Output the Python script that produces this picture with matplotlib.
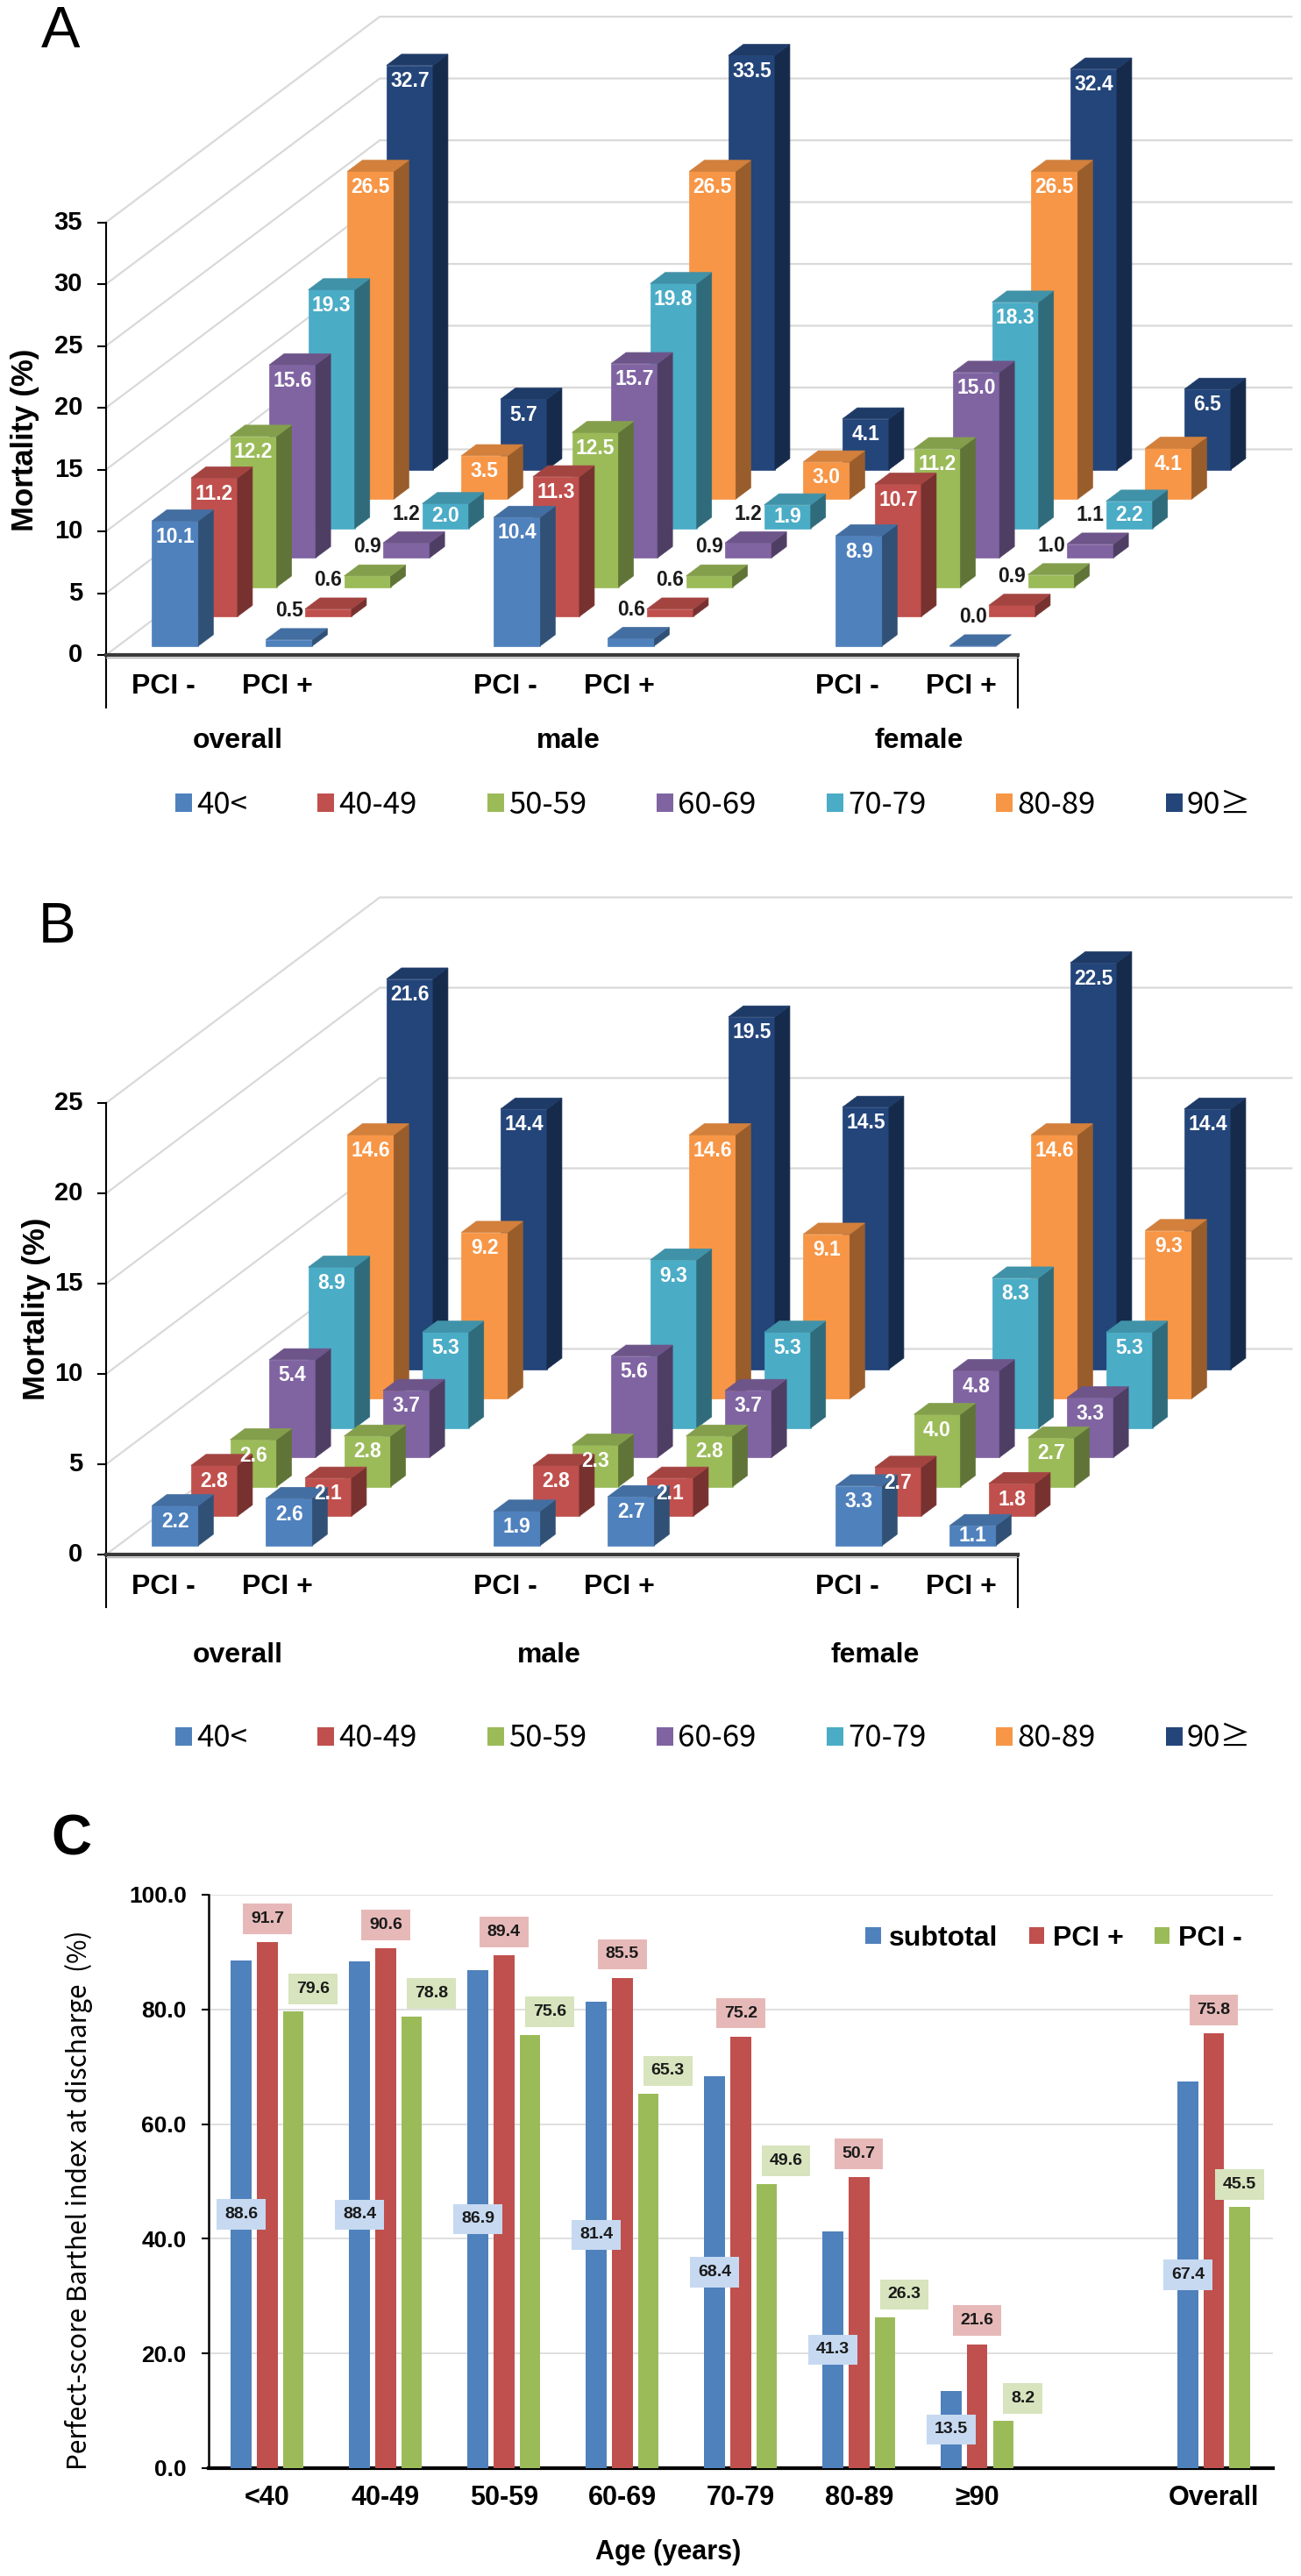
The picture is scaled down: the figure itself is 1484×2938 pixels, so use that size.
import numpy as np
import matplotlib
matplotlib.use('Agg')
import matplotlib.pyplot as plt
from matplotlib.patches import Polygon, Patch
from matplotlib.colors import to_rgb

plt.rcParams['font.family'] = ['Liberation Sans', 'DejaVu Sans']
JP = ['Noto Sans CJK JP', 'DejaVu Sans']

W, H = 1484, 2938

age_groups = ['40<', '40-49', '50-59', '60-69', '70-79', '80-89', '90≥']
age_colors = ['#4f81bd', '#c0504d', '#9bbb59', '#8064a2', '#4bacc6', '#f79646', '#23457a']
column_labels = ['PCI -', 'PCI +', 'PCI -', 'PCI +', 'PCI -', 'PCI +']
group_labels = ['overall', 'male', 'female']

# A: mortality (%), one list per column, by age group
a_overall_minus = [10.1, 11.2, 12.2, 15.6, 19.3, 26.5, 32.7]
a_overall_plus = [0.5, 0.6, 0.9, 1.2, 2.0, 3.5, 5.7]
a_male_minus = [10.4, 11.3, 12.5, 15.7, 19.8, 26.5, 33.5]
a_male_plus = [0.6, 0.6, 0.9, 1.2, 1.9, 3.0, 4.1]
a_female_minus = [8.9, 10.7, 11.2, 15.0, 18.3, 26.5, 32.4]
a_female_plus = [0.0, 0.9, 1.0, 1.1, 2.2, 4.1, 6.5]

# B: mortality (%)
b_overall_minus = [2.2, 2.8, 2.6, 5.4, 8.9, 14.6, 21.6]
b_overall_plus = [2.6, 2.1, 2.8, 3.7, 5.3, 9.2, 14.4]
b_male_minus = [1.9, 2.8, 2.3, 5.6, 9.3, 14.6, 19.5]
b_male_plus = [2.7, 2.1, 2.8, 3.7, 5.3, 9.1, 14.5]
b_female_minus = [3.3, 2.7, 4.0, 4.8, 8.3, 14.6, 22.5]
b_female_plus = [1.1, 1.8, 2.7, 3.3, 5.3, 9.3, 14.4]

# C: perfect-score Barthel index at discharge (%)
c_labels = ['<40', '40-49', '50-59', '60-69', '70-79', '80-89', '≥90', 'Overall']
c_subtotal = [88.6, 88.4, 86.9, 81.4, 68.4, 41.3, 13.5, 67.4]
c_pci_plus = [91.7, 90.6, 89.4, 85.5, 75.2, 50.7, 21.6, 75.8]
c_pci_minus = [79.6, 78.8, 75.6, 65.3, 49.6, 26.3, 8.2, 45.5]

COLUMN_SLOTS = [0, 1, 3, 4, 6, 7]   # blank slots between overall / male / female
C_POS = [0, 1, 2, 3, 4, 5, 6, 8]    # blank slot before Overall
SLOT_PX = 130.0


def fig_box(fig, left, right, top, bottom):
    return fig.add_axes([left / W, 1 - bottom / H, (right - left) / W, (bottom - top) / H])


def shades(color):
    c = np.array(to_rgb(color))
    return tuple(c), tuple(c * 0.85), tuple(c * 0.62)


def draw_3d(ax, columns, ymax, ppu, cat_px, box_px, group_x, group_px):
    sx = SLOT_PX
    row_dx, row_dy = 44.6 / sx, 33.5 / ppu
    bar_w = 53 / sx
    dep_dx, dep_dy = 17 / sx, 12.7 / ppu
    wall_dx, wall_dy = 7 * row_dx, 7 * row_dy
    ax.set_xlim(0, 8)
    ax.set_ylim(0, ymax)
    ax.axis('off')

    for v in range(0, ymax + 1, 5):
        ax.plot([0, wall_dx, 8 + wall_dx], [v, v + wall_dy, v + wall_dy],
                color='#d9d9d9', lw=1.6, clip_on=False, zorder=1)

    for k in range(6, -1, -1):
        front, top, side = shades(age_colors[k])
        z = 10 + 2 * (6 - k)
        for slot, vals in zip(COLUMN_SLOTS, columns):
            v = vals[k]
            x0 = slot + 0.5 - bar_w / 2 + (k + 0.31) * row_dx
            y0 = (k + 0.31) * row_dy
            x1, y1 = x0 + bar_w, y0 + v
            faces = [
                ([(x0, y0), (x1, y0), (x1, y1), (x0, y1)], front),
                ([(x1, y0), (x1 + dep_dx, y0 + dep_dy), (x1 + dep_dx, y1 + dep_dy), (x1, y1)], side),
                ([(x0, y1), (x1, y1), (x1 + dep_dx, y1 + dep_dy), (x0 + dep_dx, y1 + dep_dy)], top),
            ]
            for pts, col in faces:
                ax.add_patch(Polygon(pts, closed=True, fc=col, ec=col, lw=0.5,
                                     clip_on=False, zorder=z))
            h = v * ppu
            if h < 20:
                ax.text((x0 + x1) / 2, y1 + 33 / ppu, f'{v:.1f}', ha='center', va='center',
                        fontsize=16.5, fontweight='bold', color='#1a1a1a', zorder=35)
            else:
                ax.text((x0 + x1) / 2, y1 - min(18, h / 2) / ppu, f'{v:.1f}', ha='center',
                        va='center', fontsize=16.5, fontweight='bold', color='white', zorder=35)

    ax.plot([0, 0], [0, ymax], color='black', lw=1.5, clip_on=False, zorder=40)
    for v in range(0, ymax + 1, 5):
        ax.plot([-9 / sx, 0], [v, v], color='black', lw=1.5, clip_on=False, zorder=40)
        ax.text(-27 / sx, v, str(v), ha='right', va='center', fontsize=21, fontweight='bold')
    ax.plot([0, 8], [0, 0], color='#3a3a3a', lw=3, clip_on=False, zorder=40)
    ax.plot([0, 8], [-3 / ppu, -3 / ppu], color='#b0b0b0', lw=1, clip_on=False, zorder=39)
    for xb in (0, 8):
        ax.plot([xb, xb], [0, -box_px / ppu], color='black', lw=1.5, clip_on=False)
    for slot, lab in zip(COLUMN_SLOTS, column_labels):
        ax.text(slot + 0.5, -cat_px / ppu, lab, ha='center', va='center',
                fontsize=23, fontweight='bold')
    for gx, lab in zip(group_x, group_labels):
        ax.text(gx, -group_px / ppu, lab, ha='center', va='center',
                fontsize=23, fontweight='bold')


def age_legend(fig, y_px):
    handles = [Patch(fc=c, ec='none') for c in age_colors]
    fig.legend(handles, age_groups, loc='center left', bbox_to_anchor=(200 / W, 1 - y_px / H),
               ncol=7, frameon=False, prop={'family': JP, 'size': 25},
               handlelength=0.55, handleheight=0.55, handletextpad=0.15,
               columnspacing=2.3, borderpad=0, borderaxespad=0)


def draw_c(fig):
    ax = fig_box(fig, 237.5, 1452, 2161, 2815)
    pos = np.array(C_POS, dtype=float)
    bw, off = 0.175, 0.22
    ax.bar(pos - off, c_subtotal, bw, color='#4f81bd', label='subtotal', zorder=3)
    ax.bar(pos, c_pci_plus, bw, color='#c0504d', label='PCI +', zorder=3)
    ax.bar(pos + off, c_pci_minus, bw, color='#9bbb59', label='PCI -', zorder=3)
    ppu = (2815 - 2161) / 100.0
    kw = dict(ha='center', va='center', fontsize=14, fontweight='bold', color='#1a1a1a', zorder=5)
    for i, x in enumerate(pos):
        ax.text(x - off, c_subtotal[i] / 2, f'{c_subtotal[i]:.1f}',
                bbox=dict(boxstyle='square,pad=0.45', fc='#c6d9f1', ec='none'), **kw)
        ax.text(x, c_pci_plus[i] + 27 / ppu, f'{c_pci_plus[i]:.1f}',
                bbox=dict(boxstyle='square,pad=0.45', fc='#e6b9b8', ec='none'), **kw)
        shift = 0 if i == len(pos) - 1 else 0.165
        ax.text(x + off + shift, c_pci_minus[i] + 26 / ppu, f'{c_pci_minus[i]:.1f}',
                bbox=dict(boxstyle='square,pad=0.45', fc='#d7e4bd', ec='none'), **kw)

    ax.set_xlim(-0.5, 8.5)
    ax.set_ylim(0, 100)
    ax.set_yticks(np.arange(0, 101, 20))
    ax.set_yticklabels([f'{t:.1f}' for t in np.arange(0, 101, 20)], fontsize=19, fontweight='bold')
    ax.set_xticks(pos)
    ax.set_xticklabels(c_labels, fontsize=22, fontweight='bold')
    ax.tick_params(axis='x', length=0, pad=14)
    ax.tick_params(axis='y', length=5.8, width=1.5, pad=12)
    ax.yaxis.grid(True, color='#d9d9d9', lw=1.2)
    ax.set_axisbelow(True)
    for s in ('top', 'right'):
        ax.spines[s].set_visible(False)
    ax.spines['left'].set_linewidth(1.8)
    ax.spines['bottom'].set_linewidth(3)
    ax.legend(loc='center left', bbox_to_anchor=(987 / W, 1 - 2211 / H),
              bbox_transform=fig.transFigure, ncol=3, frameon=False,
              prop={'weight': 'bold', 'size': 23}, handlelength=0.55, handleheight=0.55,
              handletextpad=0.3, columnspacing=1.1, borderpad=0, borderaxespad=0)
    fig.text(762 / W, 1 - 2911 / H, 'Age (years)', ha='center', va='center',
             fontsize=22, fontweight='bold')
    fig.text(90 / W, 1 - 2509 / H, 'Perfect-score Barthel index at discharge  (%)',
             rotation=90, ha='center', va='center', fontsize=21.5, family=JP)


def main():
    fig = plt.figure(figsize=(W / 100, H / 100), dpi=100, facecolor='white')

    ax_a = fig_box(fig, 121, 121 + 8 * SLOT_PX, 747 - 35 * 14.1, 747)
    cols_a = [a_overall_minus, a_overall_plus, a_male_minus, a_male_plus, a_female_minus, a_female_plus]
    draw_3d(ax_a, cols_a, 35, 14.1, 36, 60, [1.154, 4.054, 7.13], 98)
    fig.text(69 / W, 1 - 37 / H, 'A', fontsize=48, ha='center', va='center')
    fig.text(29 / W, 1 - 502 / H, 'Mortality (%)', rotation=90, ha='center', va='center',
             fontsize=25, fontweight='bold')
    age_legend(fig, 918)

    ax_b = fig_box(fig, 121, 121 + 8 * SLOT_PX, 1773 - 25 * 20.6, 1773)
    cols_b = [b_overall_minus, b_overall_plus, b_male_minus, b_male_plus, b_female_minus, b_female_plus]
    draw_3d(ax_b, cols_b, 25, 20.6, 37, 60, [1.154, 3.885, 6.746], 115)
    fig.text(65 / W, 1 - 1058 / H, 'B', fontsize=46, ha='center', va='center')
    fig.text(42 / W, 1 - 1493 / H, 'Mortality (%)', rotation=90, ha='center', va='center',
             fontsize=25, fontweight='bold')
    age_legend(fig, 1983)

    draw_c(fig)
    fig.text(81 / W, 1 - 2099 / H, 'C', fontsize=46, fontweight='bold', ha='center', va='center')

    fig.savefig('out.png', dpi=100, facecolor='white')
    plt.close(fig)


if __name__ == "__main__":
    main()
